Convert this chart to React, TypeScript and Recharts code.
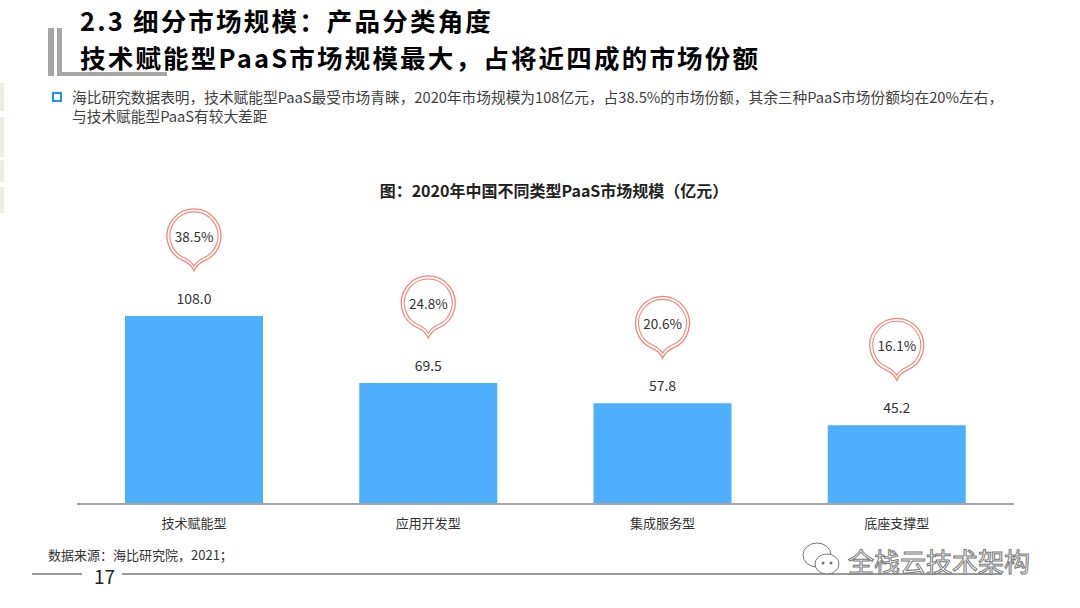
import React from 'react';
import { BarChart, Bar, XAxis, YAxis, LabelList } from 'recharts';

const categories = ['技术赋能型', '应用开发型', '集成服务型', '底座支撑型'];
const marketSize = [108.0, 69.5, 57.8, 45.2];
const marketShare = ['38.5%', '24.8%', '20.6%', '16.1%'];

const chartData = categories.map((name, i) => ({
    name,
    size: marketSize[i],
    share: marketShare[i],
}));

const FONT = '"Noto Sans CJK SC", "Noto Sans", sans-serif';
const BAR_COLOR = '#4daffd';
const PIN_COLOR = '#f3867a';

// map-pin shaped bubble: circle with a pointed tail underneath
const pinPath = (cx: number, cy: number, r: number, tail: number) => {
    const a = (22 * Math.PI) / 180;
    const dx = r * Math.sin(a);
    const dy = r * Math.cos(a);
    return [
        `M ${cx + dx} ${cy + dy}`,
        `A ${r} ${r} 0 1 0 ${cx - dx} ${cy + dy}`,
        `Q ${cx - 3} ${cy + r + 1} ${cx} ${cy + tail}`,
        `Q ${cx + 3} ${cy + r + 1} ${cx + dx} ${cy + dy}`,
        'Z',
    ].join(' ');
};

const ShareBubble = (props: any) => {
    const { x, y, width, index } = props;
    const cx = x + width / 2;
    const cy = y - 80;
    return (
        <g>
            <path d={pinPath(cx, cy, 27, 35)} fill="#fff" stroke={PIN_COLOR} strokeWidth={1.3} />
            <path d={pinPath(cx, cy, 24, 30)} fill="none" stroke={PIN_COLOR} strokeWidth={1.1} />
            <text x={cx} y={cy} textAnchor="middle" dominantBaseline="central" fontSize={13.5} fill="#333" fontFamily={FONT}>
                {marketShare[index]}
            </text>
        </g>
    );
};

const ValueLabel = (props: any) => {
    const { x, y, width, value } = props;
    return (
        <text x={x + width / 2} y={y - 18} textAnchor="middle" dominantBaseline="central" fontSize={14} fill="#333" fontFamily={FONT}>
            {Number(value).toFixed(1)}
        </text>
    );
};

const titleStyle: React.CSSProperties = {
    position: 'absolute',
    left: 80,
    fontSize: 25.5,
    fontWeight: 700,
    color: '#000',
    lineHeight: '37px',
    letterSpacing: 2.2,
    whiteSpace: 'nowrap',
};

const App: React.FC = () => {
    return (
        <div style={{ position: 'absolute', left: 0, top: 0, width: 1080, height: 608, background: '#fff', fontFamily: FONT, overflow: 'hidden' }}>
            {/* left decoration */}
            <div style={{ position: 'absolute', left: 48, top: 28, width: 6, height: 48, background: '#a6a6a6' }} />
            <div style={{ position: 'absolute', left: 57, top: 28, width: 5, height: 48, background: '#a6a6a6' }} />
            <div style={{ position: 'absolute', left: 57, top: 72, width: 110, height: 4, background: '#a6a6a6' }} />
            {[[83, 28], [117, 40], [160, 22], [187, 26]].map(([t, h], i) => (
                <div key={i} style={{ position: 'absolute', left: 0, top: t, width: 4, height: h, background: '#efece2' }} />
            ))}

            <div style={{ ...titleStyle, top: 1 }}>2.3 细分市场规模：产品分类角度</div>
            <div style={{ ...titleStyle, top: 38 }}>技术赋能型PaaS市场规模最大，占将近四成的市场份额</div>

            <div style={{ position: 'absolute', left: 52, top: 92, width: 6, height: 6, border: '2px solid #1e90e8' }} />
            <div style={{ position: 'absolute', left: 72, top: 87, fontSize: 14.7, color: '#404040', lineHeight: '19px', whiteSpace: 'nowrap' }}>
                海比研究数据表明，技术赋能型PaaS最受市场青睐，2020年市场规模为108亿元，占38.5%的市场份额，其余三种PaaS市场份额均在20%左右，
                <br />
                与技术赋能型PaaS有较大差距
            </div>

            <div style={{ position: 'absolute', left: 0, width: 1108, top: 179, textAlign: 'center', fontSize: 16, fontWeight: 700, color: '#222', lineHeight: '22px' }}>
                图：2020年中国不同类型PaaS市场规模（亿元）
            </div>

            <div style={{ position: 'absolute', left: 0, top: 0 }}>
                <BarChart width={1080} height={608} data={chartData} margin={{ top: 295, right: 66, bottom: 74, left: 77 }}>
                    <XAxis
                        dataKey="name"
                        height={30}
                        tickLine={false}
                        axisLine={{ stroke: '#a6a6a6', strokeWidth: 2 }}
                        tick={{ fill: '#333', fontSize: 13, fontFamily: FONT }}
                        tickMargin={9}
                    />
                    <YAxis hide domain={[0, 120]} />
                    <Bar dataKey="size" fill={BAR_COLOR} barSize={138} isAnimationActive={false}>
                        <LabelList dataKey="size" content={ValueLabel} />
                        <LabelList dataKey="share" content={ShareBubble} />
                    </Bar>
                </BarChart>
            </div>

            <div style={{ position: 'absolute', left: 48, top: 545, fontSize: 13, color: '#333', lineHeight: '20px', whiteSpace: 'nowrap' }}>
                数据来源：海比研究院，2021；
            </div>
            <div style={{ position: 'absolute', left: 32, top: 573, width: 50, height: 1.5, background: '#999' }} />
            <div style={{ position: 'absolute', left: 94, top: 565, fontSize: 19, color: '#222', lineHeight: '22px' }}>17</div>
            <div style={{ position: 'absolute', left: 122, top: 573, width: 880, height: 1.5, background: '#999' }} />

            {/* account watermark */}
            <svg style={{ position: 'absolute', left: 800, top: 540 }} width={44} height={40}>
                <ellipse cx={17} cy={15} rx={14} ry={12} fill="#fff" stroke="#777" strokeWidth={1} />
                <ellipse cx={27} cy={24} rx={12} ry={10} fill="#fff" stroke="#777" strokeWidth={1} />
                <circle cx={23} cy={23} r={1.5} fill="#777" />
                <circle cx={31} cy={23} r={1.5} fill="#777" />
            </svg>
            <div style={{ position: 'absolute', left: 848, top: 545, fontSize: 26, color: '#fff', WebkitTextStroke: '1px #777', lineHeight: '32px', whiteSpace: 'nowrap' }}>
                全栈云技术架构
            </div>
        </div>
    );
};

export default App;
